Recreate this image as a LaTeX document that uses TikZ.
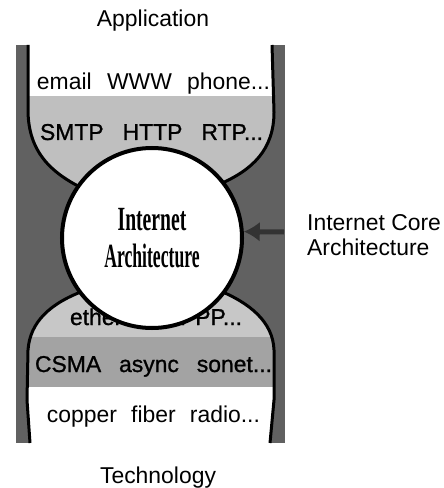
\documentclass[tikz,border=0pt]{standalone}
\usepackage{fontspec}
\usepackage{graphicx}
\setmainfont{Liberation Sans}
\newfontfamily\headfont{Liberation Serif}
\newfontfamily\heavyfont[FakeBold=1]{Liberation Sans}
\usetikzlibrary{arrows.meta}

\tikzset{
  label/.style={font=\fontsize{23}{26}\selectfont, inner sep=0, anchor=base},
  bandtext/.style={font=\fontsize{23}{26}\selectfont, inner sep=0, anchor=base},
  heavyband/.style={font=\heavyfont\fontsize{23}{26}\selectfont, inner sep=0, anchor=base},
  coretext/.style={font=\headfont\bfseries\fontsize{34}{36}\selectfont, inner sep=0, anchor=base},
  rim/.style={line width=3bp, black},
}

\begin{document}
\begin{tikzpicture}[x=1bp, y=-1bp]
  \useasboundingbox (0,0) rectangle (444,488);

  % dark backdrop behind the hourglass
  \fill[black!62] (16,45) rectangle (285,443);

  % upper bulb: application layers
  \begin{scope}
    \clip (28,45) -- (28,112) .. controls (29,150) and (48,172) .. (86,190)
      -- (220,184) .. controls (252,170) and (274,150) .. (274,112) -- (272,45) -- cycle;
    \fill[white] (0,40) rectangle (300,96);
    \fill[black!25] (0,96) rectangle (300,200);
  \end{scope}
  \draw[rim] (28,45) -- (28,112) .. controls (29,150) and (48,172) .. (86,190);
  \draw[rim] (220,184) .. controls (252,170) and (274,150) .. (274,112) -- (272,45);

  % lower bulb: technology layers
  \begin{scope}
    \clip (30,443) -- (27,400) -- (28,350) .. controls (30,322) and (50,303) .. (86,290)
      -- (218,290) .. controls (250,303) and (273,322) .. (274,350) -- (274,400) -- (270,443) -- cycle;
    \fill[black!22] (0,280) rectangle (300,337);
    \fill[black!36] (0,337) rectangle (300,387);
    \fill[white] (0,387) rectangle (300,450);
  \end{scope}
  \draw[rim] (30,443) -- (27,400) -- (28,350) .. controls (30,322) and (50,303) .. (86,290);
  \draw[rim] (218,290) .. controls (250,303) and (273,322) .. (274,350) -- (274,400) -- (270,443);

  % layer texts
  \node[bandtext] (apps) at (153.5,90) {\makebox[233bp][s]{email WWW phone...}};
  \node[heavyband] (proto) at (151.5,140) {\makebox[223bp][s]{SMTP HTTP RTP...}};
  \node[heavyband] (links) at (156,325) {\makebox[172bp][s]{ethernet PPP...}};
  \node[heavyband] (access) at (153.5,372) {\makebox[237bp][s]{CSMA async sonet...}};
  \node[bandtext] (media) at (153.5,422) {\makebox[213bp][s]{copper fiber radio...}};

  % the narrow waist
  \node[circle, draw, line width=4bp, fill=white, minimum size=180bp, inner sep=0] (core) at (152,238) {};
  \node[coretext] (core1) at (152,230) {\scalebox{0.58}[1]{Internet}};
  \node[coretext] (core2) at (152,267) {\scalebox{0.52}[1]{Architecture}};

  % pointer to the waist
  \coordinate (tail) at (284,232);
  \draw[black!80, line width=5bp, -{Latex[length=16bp,width=20bp]}] (tail) -- (core.4);

  % outer labels
  \node[label] (app) at (153,27) {Application};
  \node[label] (tech) at (158,483) {Technology};
  \node[label, anchor=base west] (ica1) at (307,230) {Internet Core};
  \node[label, anchor=base west] (ica2) at (307,255) {Architecture};
\end{tikzpicture}
\end{document}
